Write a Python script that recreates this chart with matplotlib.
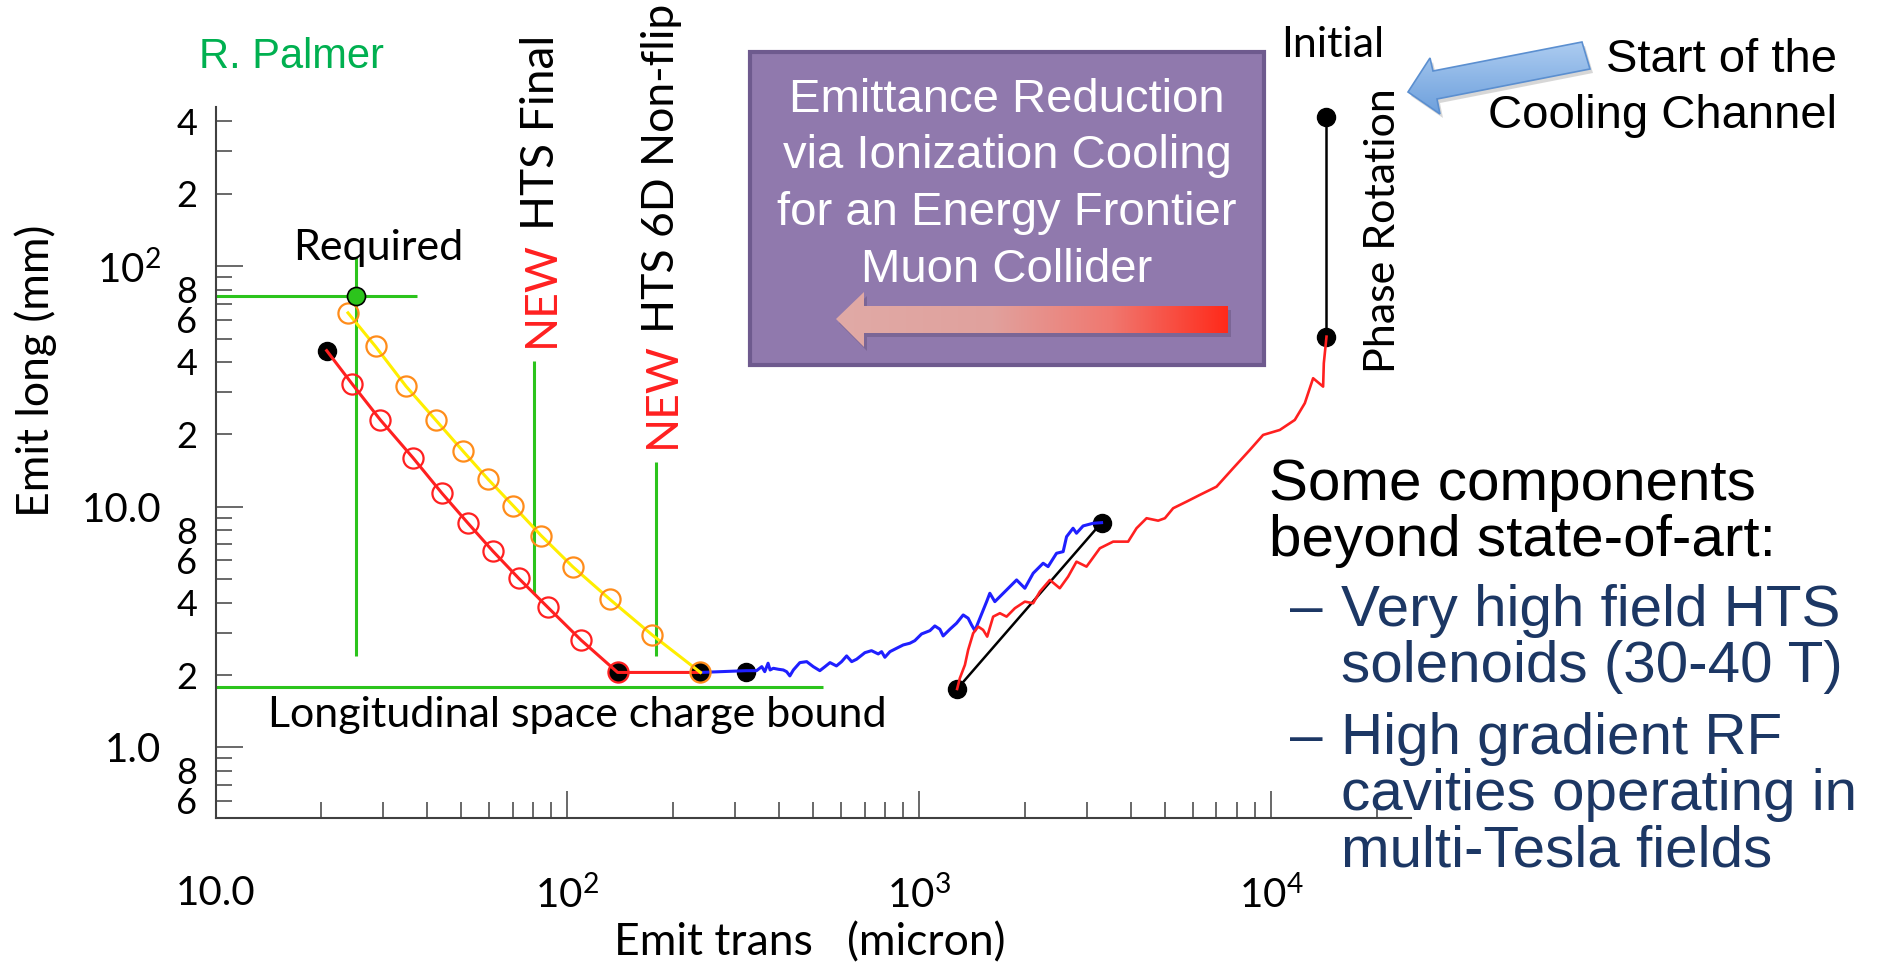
import matplotlib
matplotlib.use('Agg')
import matplotlib.pyplot as plt
import numpy as np
from matplotlib.patches import Rectangle, Polygon
from matplotlib.colors import LinearSegmentedColormap
from matplotlib.ticker import FixedLocator, FixedFormatter, NullFormatter

plt.rcParams['font.family'] = ['Lato', 'DejaVu Sans']
plt.rcParams['mathtext.fontset'] = 'custom'
plt.rcParams['mathtext.rm'] = 'Lato'
plt.rcParams['mathtext.it'] = 'Lato:italic'
plt.rcParams['mathtext.bf'] = 'Lato:bold'

SLIDE = ['Liberation Sans', 'DejaVu Sans']

# ---- data: emit trans (micron) vs emit long (mm) ----
# final cooling, red track (first point = end of 6D cooling before final)
final_x = [20.7, 24.5, 29.4, 36.4, 44.0, 52.2, 61.4, 72.8, 87.9, 109.5, 139, 239]
final_y = [44.6, 32.3, 23.0, 16.0, 11.4, 8.55, 6.55, 5.04, 3.83, 2.79, 2.05, 2.05]

# new HTS final cooling, yellow track with orange markers
hts_x = [23.8, 28.5, 34.8, 42.2, 50.6, 59.6, 70.2, 84.2, 103.7, 132, 174, 239]
hts_y = [64.0, 46.4, 31.7, 23.0, 17.0, 13.0, 10.1, 7.60, 5.63, 4.13, 2.94, 2.05]

# 6D cooling after merge (blue)
after_x = [239, 323, 345, 357, 364, 372, 377, 385, 398, 411,
           420, 429, 439, 458, 479, 500, 522, 540, 558, 582,
           602, 622, 643, 664, 701, 732, 765, 782, 799, 826,
           863, 901, 941, 972, 1016, 1073, 1108, 1145, 1170, 1223,
           1277, 1334, 1378, 1409, 1440, 1488, 1555, 1588, 1641, 1772,
           1892, 1997, 2109, 2251, 2325, 2457, 2566, 2624, 2738, 2800,
           2924, 3122, 3300]
after_y = [2.05, 2.085, 2.085, 2.167, 2.065, 2.239, 2.099, 2.133, 2.113, 2.099,
           2.065, 1.983, 2.099, 2.252, 2.273, 2.167, 2.085, 2.167, 2.252, 2.182,
           2.273, 2.401, 2.273, 2.326, 2.477, 2.525, 2.447, 2.501, 2.370, 2.501,
           2.584, 2.667, 2.711, 2.779, 2.963, 3.058, 3.199, 3.100, 2.907, 3.100,
           3.283, 3.554, 3.443, 3.230, 3.058, 3.443, 4.036, 4.374, 4.036, 4.514,
           4.968, 4.588, 5.297, 5.829, 5.643, 6.413, 6.513, 7.515, 8.149, 7.768,
           8.331, 8.546, 8.596]

# 6D cooling before merge (red)
before_x = [1282, 1305, 1349, 1378, 1424, 1472, 1520, 1561, 1623, 1696,
            1772, 1871, 1997, 2109, 2203, 2352, 2510, 2651, 2800, 2990,
            3263, 3559, 3926, 4148, 4429, 4778, 4994, 5271, 5754, 6277,
            7002, 7805, 8708, 9497, 10593, 11686, 12477, 13174, 14065, 14130,
            14380]
before_y = [1.750, 1.940, 2.202, 2.542, 2.983, 3.178, 3.079, 2.888, 3.497, 3.613,
            3.497, 3.790, 4.036, 3.975, 4.442, 4.968, 4.588, 5.128, 5.917, 5.643,
            6.728, 7.168, 7.168, 8.149, 8.968, 8.761, 8.968, 9.867, 10.51, 11.21,
            12.13, 14.47, 17.24, 19.90, 20.87, 22.97, 26.96, 34.24, 31.60, 39.53,
            50.98]

# merge step and phase rotation
merge_x = [1282, 3300]
merge_y = [1.75, 8.6]
phase_x = [14380, 14380]
phase_y = [51, 416]

# stage end points
dots_x = [20.7, 139, 239, 323, 1282, 3300, 14380, 14380]
dots_y = [44.6, 2.05, 2.05, 2.05, 1.75, 8.6, 51, 416]

# required emittance
req_x, req_y = 25, 75
req_vline_y = [2.4, 109]
req_hline_x = [10, 37.5]

# HTS solenoid markers and space charge bound
hts_final_x, hts_final_y = 80.5, [4.35, 40.5]
hts_6d_x, hts_6d_y = 178.6, [2.4, 15.4]
bound_y, bound_x = 1.785, [10, 534]

# ticks
xmaj = [10, 100, 1000, 10000]
xmaj_lab = ['10.0', r'$10^2$', r'$10^3$', r'$10^4$']
xmin = [20, 30, 40, 50, 60, 70, 80, 90, 200, 300, 400, 500, 600, 700, 800, 900,
        2000, 3000, 4000, 5000, 6000, 7000, 8000, 9000, 20000]
ymaj = [1, 10, 100]
ymaj_lab = ['1.0', '10.0', r'$10^2$']
ymin = [0.6, 0.7, 0.8, 0.9, 2, 3, 4, 5, 6, 7, 8, 9,
        20, 30, 40, 50, 60, 70, 80, 90, 200, 300, 400]
ymin_lab = ['6', '', '8', '', '2', '', '4', '', '6', '', '8', '',
            '2', '', '4', '', '6', '', '8', '', '2', '', '4']

box_lines = ['Emittance Reduction', 'via Ionization Cooling',
             'for an Energy Frontier', 'Muon Collider']
bullets = [('Very high field HTS', 'solenoids (30-40 T)'),
           ('High gradient RF', 'cavities operating in', 'multi-Tesla fields')]

W, H = 1877, 968
GREEN = '#2cc41c'
RED = '#ff2020'
NAVY = '#1c3764'

fig = plt.figure(figsize=(W / 100, H / 100), dpi=100, facecolor='white')
ax = fig.add_axes([215.5 / W, 1 - 817.6 / H, (1411 - 215.5) / W, (817.6 - 107) / H])
ax.set_xscale('log')
ax.set_yscale('log')
ax.patch.set_alpha(0)

# reference lines
ax.vlines(req_x, *req_vline_y, color=GREEN, lw=2.2, zorder=1)
ax.hlines(req_y, *req_hline_x, color=GREEN, lw=2.2, zorder=1)
ax.vlines(hts_final_x, *hts_final_y, color=GREEN, lw=2.2, zorder=1)
ax.vlines(hts_6d_x, *hts_6d_y, color=GREEN, lw=2.2, zorder=1)
ax.hlines(bound_y, *bound_x, color=GREEN, lw=2.2, zorder=1)

# tracks
ax.plot(dots_x, dots_y, 'o', color='black', ms=13, zorder=2)
ax.plot(merge_x, merge_y, color='black', lw=1.8, zorder=3)
ax.plot(phase_x, phase_y, color='black', lw=1.8, zorder=3)
ax.plot(after_x, after_y, color='#1f1fff', lw=2.2, zorder=3)
ax.plot(before_x, before_y, color=RED, lw=1.9, zorder=3)
ax.plot(final_x, final_y, color=RED, lw=2.2, zorder=3)
ax.plot(hts_x, hts_y, color='#ffee00', lw=2.2, zorder=3)
ax.plot(final_x[1:11], final_y[1:11], 'o', mfc='none', mec=RED, ms=14.5, mew=1.6, zorder=4)
ax.plot(hts_x, hts_y, 'o', mfc='none', mec='#ff8c1a', ms=14.5, mew=1.6, zorder=4)
ax.plot([req_x], [req_y], 'o', mfc='#2cc41c', mec='black', ms=13, mew=1.2, zorder=5)

ax.set_xlim(10, 25000)
ax.set_ylim(0.511, 459)

ax.xaxis.set_major_locator(FixedLocator(xmaj))
ax.xaxis.set_major_formatter(FixedFormatter(xmaj_lab))
ax.xaxis.set_minor_locator(FixedLocator(xmin))
ax.xaxis.set_minor_formatter(NullFormatter())
ax.yaxis.set_major_locator(FixedLocator(ymaj))
ax.yaxis.set_major_formatter(FixedFormatter(ymaj_lab))
ax.yaxis.set_minor_locator(FixedLocator(ymin))
ax.yaxis.set_minor_formatter(FixedFormatter(ymin_lab))

for s in ['top', 'right']:
    ax.spines[s].set_visible(False)
for s in ['left', 'bottom']:
    ax.spines[s].set_color('#404040')
    ax.spines[s].set_linewidth(1.5)

ax.tick_params(which='both', direction='in', color='#404040', width=1.1, labelsize=29)
ax.tick_params(which='major', length=19.5)
ax.tick_params(which='minor', length=11.5)
ax.tick_params(axis='y', which='major', pad=39)
ax.tick_params(axis='y', which='minor', pad=13, labelsize=26)
ax.tick_params(axis='x', which='major', pad=41)

# ---- overlay in pixel coordinates for slide decorations ----
ov = fig.add_axes([0, 0, 1, 1], zorder=5)
ov.axis('off')
ov.patch.set_alpha(0)

# axis titles
ov.text(36, 371, 'Emit long (mm)', rotation=90, ha='center', va='center', fontsize=32)
ov.text(810, 943, 'Emit trans   (micron)', ha='center', va='center', fontsize=32)

# plot annotations
ov.text(199, 68, 'R. Palmer', color='#00b050', fontsize=30, family=SLIDE, va='baseline')
ov.text(293, 260, 'Required', fontsize=31, va='baseline')
ov.text(268, 727, 'Longitudinal space charge bound', fontsize=31, va='baseline')
ov.text(1281, 57, 'Initial', fontsize=31, va='baseline')
ov.text(1383, 373, 'Phase Rotation', rotation=90, ha='center', va='bottom', fontsize=31)
ov.text(541, 347, 'NEW', rotation=90, ha='center', va='bottom', fontsize=32, color=RED)
ov.text(541, 230, 'HTS Final', rotation=90, ha='center', va='bottom', fontsize=33)
ov.text(662, 448, 'NEW', rotation=90, ha='center', va='bottom', fontsize=32, color=RED)
ov.text(662, 333, 'HTS 6D Non-flip', rotation=90, ha='center', va='bottom', fontsize=32)

# purple title box
ov.add_patch(Rectangle((750, 52), 514, 313, fc='#9079ad', ec='#6e5a8e', lw=3))
for i, line in enumerate(box_lines):
    ov.text(1007, 112 + 56.5 * i, line, color='white', fontsize=34, family=SLIDE,
            ha='center', va='baseline')

# gradient arrow in box
arrow_pts = [(836, 319), (864, 292), (864, 306), (1228, 306), (1228, 333), (864, 333), (864, 347)]
shadow = Polygon([(x + 3, y + 4) for x, y in arrow_pts], closed=True, fc='#6d5a88', ec='none', alpha=0.6)
ov.add_patch(shadow)
clip = Polygon(arrow_pts, closed=True, fc='none', ec='none')
ov.add_patch(clip)
cm_red = LinearSegmentedColormap.from_list('g', [(0, '#e0aaa6'), (0.4, '#e1a19d'),
                                                (0.7, '#f07870'), (1, '#ff2a1a')])
grad = np.linspace(0, 1, 256).reshape(1, -1)
im = ov.imshow(grad, cmap=cm_red, extent=[836, 1228, 347, 292], aspect='auto', zorder=3)
im.set_clip_path(clip)

# blue call-out arrow
blue_pts = [(1408, 92), (1430, 58), (1433, 71), (1582, 42), (1590, 69), (1437, 99), (1440, 114)]
ov.add_patch(Polygon([(x + 3, y + 4) for x, y in blue_pts], closed=True, fc='#b0b0b0', ec='none', alpha=0.5))
bclip = Polygon(blue_pts, closed=True, fc='none', ec='#5b8fd0', lw=1.2, zorder=4)
ov.add_patch(bclip)
cm_blue = LinearSegmentedColormap.from_list('b', ['#aecdf1', '#6c9fdc'])
bim = ov.imshow(np.linspace(0, 1, 256).reshape(-1, 1), cmap=cm_blue,
                extent=[1400, 1595, 115, 40], aspect='auto', zorder=3)
bim.set_clip_path(bclip)
ov.set_xlim(0, W)
ov.set_ylim(H, 0)

ov.text(1837, 72, 'Start of the', fontsize=34, family=SLIDE, ha='right', va='baseline')
ov.text(1837, 128, 'Cooling Channel', fontsize=34, family=SLIDE, ha='right', va='baseline')

# right-hand notes
ov.text(1269, 500, 'Some components', fontsize=42, family=SLIDE, va='baseline')
ov.text(1269, 556, 'beyond state-of-art:', fontsize=42, family=SLIDE, va='baseline')
y0 = 625.5
for group in bullets:
    ov.text(1290, y0, '\u2013', fontsize=42, family=SLIDE, color=NAVY, va='baseline')
    for line in group:
        ov.text(1341, y0, line, fontsize=42, family=SLIDE, color=NAVY, va='baseline')
        y0 += 56.2
    y0 += 15.8

fig.savefig('out.png', dpi=100, facecolor='white')
